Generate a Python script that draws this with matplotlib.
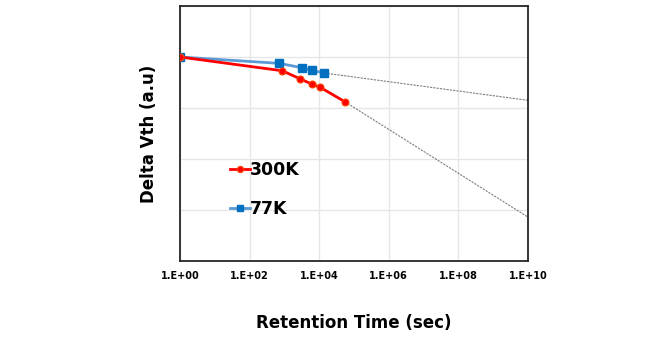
"""Delta Vth vs retention time at 300K and 77K, with extrapolated trends."""
import numpy as np
import matplotlib
matplotlib.use("Agg")
import matplotlib.pyplot as plt
from matplotlib.ticker import FixedLocator

# ---------- Data ----------
time_300k = [1.0, 870, 2750, 6050, 1.07e4, 5.4e4]
dvth_300k = [1.000, 0.946, 0.915, 0.894, 0.881, 0.825]

time_77k = [1.0, 713, 3150, 6050, 1.4e4]
dvth_77k = [1.000, 0.975, 0.958, 0.948, 0.937]

# extrapolated trend (from last measured point out to 1e10 s)
trend_time_300k = [5.4e4, 1e10]
trend_dvth_300k = [0.825, 0.372]
trend_time_77k = [1.4e4, 1e10]
trend_dvth_77k = [0.937, 0.830]

xtick_vals = [1e0, 1e2, 1e4, 1e6, 1e8, 1e10]
xtick_labels = ["1.E+00", "1.E+02", "1.E+04", "1.E+06", "1.E+08", "1.E+10"]
ytick_vals = [0.2, 0.4, 0.6, 0.8, 1.0, 1.2]

# ---------- Style ----------
RED = "#FF0000"
BLUE_LINE = "#5B9BD5"
BLUE_MARK = "#0070C0"
GRID = "#E6E6E6"
FONT = "DejaVu Sans"

fig = plt.figure(figsize=(6.6, 3.5), dpi=100)
ax = fig.add_axes([0.2727, 0.2543, 0.5273, 0.7286])

ax.set_xscale("log")
ax.set_xlim(1e0, 1e10)
ax.set_ylim(0.2, 1.2)

# trend lines sit underneath the data
ax.plot(trend_time_300k, trend_dvth_300k, color="#7F7F7F", lw=0.8,
        ls=(0, (2, 1)), zorder=2)
ax.plot(trend_time_77k, trend_dvth_77k, color="#7F7F7F", lw=0.8,
        ls=(0, (2, 1)), zorder=2)

ax.plot(time_300k, dvth_300k, color=RED, lw=2, marker="o", ms=5,
        mfc=RED, mec="#FF4500", mew=0.8, label="300K", zorder=4)
ax.plot(time_77k, dvth_77k, color=BLUE_LINE, lw=2, marker="s", ms=5.5,
        mfc=BLUE_MARK, mec=BLUE_MARK, label="77K", zorder=3)

ax.xaxis.set_major_locator(FixedLocator(xtick_vals))
ax.xaxis.set_minor_locator(FixedLocator([]))
ax.set_xticklabels(xtick_labels, fontsize=7, fontweight="bold", family=FONT)
ax.yaxis.set_major_locator(FixedLocator(ytick_vals))
ax.set_yticklabels([])
ax.tick_params(axis="both", length=0)
ax.tick_params(axis="x", pad=7)

ax.grid(True, color=GRID, lw=1)
ax.set_axisbelow(True)
for s in ax.spines.values():
    s.set_color("#262626")
    s.set_linewidth(1.3)

ax.set_xlabel("Retention Time (sec)", fontsize=12, fontweight="bold",
              family=FONT, labelpad=24)
ax.set_ylabel("Delta Vth (a.u)", fontsize=12, fontweight="bold",
              family=FONT, labelpad=12)

leg = ax.legend(loc="upper left", bbox_to_anchor=(0.1, 0.455), frameon=False,
                handlelength=1.1, handletextpad=0.0, labelspacing=1.25,
                prop={"family": FONT, "weight": "bold", "size": 12.5})
for h in leg.legend_handles:
    h.set_markersize(4.5)

fig.savefig("out.png", dpi=100, facecolor="white")
